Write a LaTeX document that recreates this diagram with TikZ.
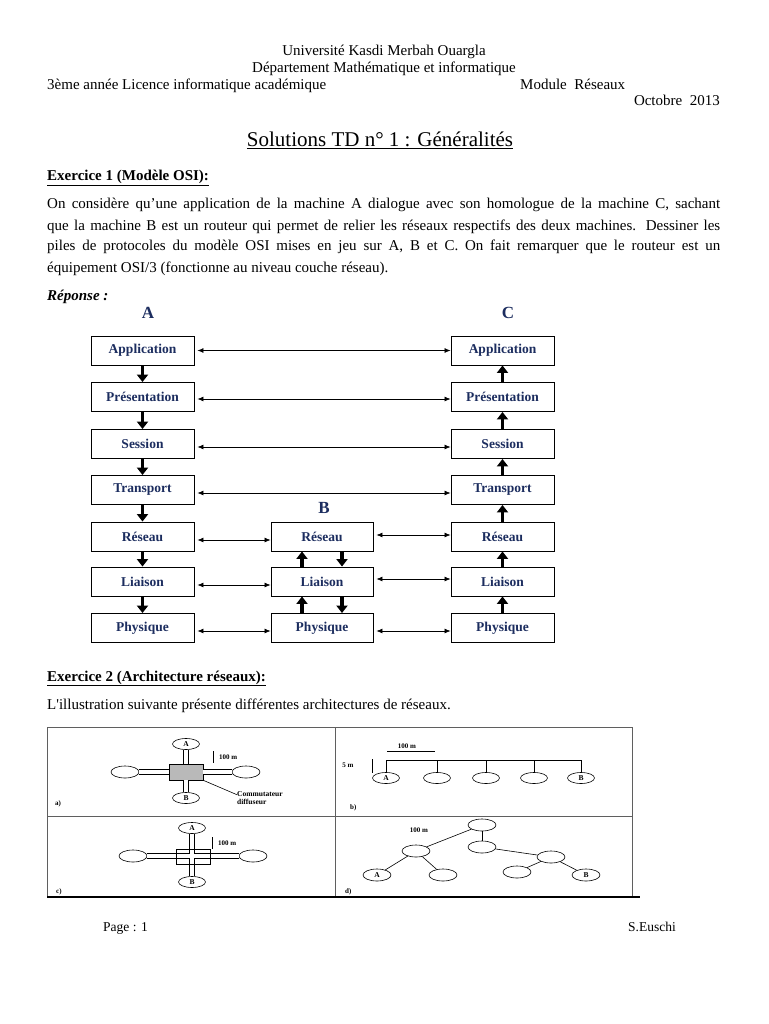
\documentclass[tikz,border=0pt]{standalone}
\usepackage{fontspec}
\setmainfont{Liberation Serif}
\usetikzlibrary{arrows.meta,shapes.geometric}
\definecolor{navy}{RGB}{28,45,95}
\definecolor{framegray}{RGB}{95,95,95}
\begin{document}
\begin{tikzpicture}[x=1pt,y=-1pt,
  txt/.style={inner sep=0pt, font=\fontsize{15}{18}\selectfont},
  layer/.style={draw, line width=0.9pt, minimum width=103pt, minimum height=29pt, inner sep=0pt, text=navy, font=\fontsize{13.5}{14}\selectfont\bfseries},
  stk/.style={text=navy, font=\fontsize{17}{18}\selectfont\bfseries, inner sep=0pt},
  harrow/.style={{Latex[length=6pt,width=5pt]}-{Latex[length=6pt,width=5pt]}, line width=0.7pt},
  tarrow/.style={-{Triangle[length=7.5pt,width=11pt]}, line width=3.6pt},
  ell/.style={draw, ellipse, line width=0.6pt, minimum width=27pt, minimum height=11pt, inner sep=0pt, font=\fontsize{7.5}{8}\selectfont\bfseries},
  wideell/.style={ell, minimum width=28pt, minimum height=12pt},
  lbl/.style={inner sep=0pt, font=\fontsize{7}{8}\selectfont\bfseries},
  tframe/.style={draw=framegray, line width=0.8pt},
  wire/.style={line width=0.6pt},
  dbl/.style={double, double distance=4pt, line width=0.6pt}
]
\useasboundingbox (0,0) rectangle (768,1024);
\fill[white] (0,0) rectangle (768,1024);

% header
\node[txt, anchor=base] (h1) at (384,56) {Université Kasdi Merbah Ouargla};
\node[txt, anchor=base] (h2) at (384,73) {Département Mathématique et informatique};
\node[txt, anchor=base west] (h3) at (47,90) {3ème année Licence informatique académique};
\node[txt, anchor=base west] (h4) at (520,90) {Module\ \ Réseaux};
\node[txt, anchor=base east] (h5) at (720,106) {Octobre\ \ 2013};
\node[inner sep=0pt, font=\fontsize{21}{22}\selectfont, anchor=base] (title) at (380,147) {\underline{Solutions TD n° 1 : Généralités}};

\node[txt, anchor=base west] (ex1) at (47,181) {\textbf{\underline{Exercice 1 (Modèle OSI):}}};
\node[txt, anchor=base west] (p1) at (47,209) {\makebox[673pt][s]{On considère qu’une application de la machine A dialogue avec son homologue de la machine C, sachant}};
\node[txt, anchor=base west] (p2) at (47,230) {\makebox[673pt][s]{que la machine B est un routeur qui permet de relier les réseaux respectifs des deux machines. Dessiner les}};
\node[txt, anchor=base west] (p3) at (47,251) {\makebox[673pt][s]{piles de protocoles du modèle OSI mises en jeu sur A, B et C. On fait remarquer que le routeur est un}};
\node[txt, anchor=base west] (p4) at (47,272) {équipement OSI/3 (fonctionne au niveau couche réseau).};
\node[txt, anchor=base west] (rep) at (47,300) {\textbf{\textit{Réponse :}}};

% OSI stacks
\node[stk] (labA) at (148,313) {A};
\node[stk] (labC) at (508,313) {C};
\node[stk] (labB) at (324,508) {B};

\node[layer] (aApp) at (142.5,350.5) {Application};
\node[layer] (aPre) at (142.5,397) {Présentation};
\node[layer] (aSes) at (142.5,444) {Session};
\node[layer] (aTra) at (142.5,490) {Transport};
\node[layer] (aRes) at (142.5,536.5) {Réseau};
\node[layer] (aLia) at (142.5,581.5) {Liaison};
\node[layer] (aPhy) at (142.5,628) {Physique};

\node[layer] (cApp) at (502.5,350.5) {Application};
\node[layer] (cPre) at (502.5,397) {Présentation};
\node[layer] (cSes) at (502.5,444) {Session};
\node[layer] (cTra) at (502.5,490) {Transport};
\node[layer] (cRes) at (502.5,536.5) {Réseau};
\node[layer] (cLia) at (502.5,581.5) {Liaison};
\node[layer] (cPhy) at (502.5,628) {Physique};

\node[layer, minimum width=102pt] (bRes) at (322,536.5) {Réseau};
\node[layer, minimum width=102pt] (bLia) at (322,581.5) {Liaison};
\node[layer, minimum width=102pt] (bPhy) at (322,628) {Physique};

\draw[harrow] ([xshift=3pt]aApp.east) -- (cApp.west);
\draw[harrow] ([xshift=3pt,yshift=-2pt]aPre.east) -- ([yshift=-2pt]cPre.west);
\draw[harrow] ([xshift=3pt,yshift=-3pt]aSes.east) -- ([yshift=-3pt]cSes.west);
\draw[harrow] ([xshift=3pt,yshift=-3pt]aTra.east) -- ([yshift=-3pt]cTra.west);
\draw[harrow] ([xshift=3pt,yshift=-3.5pt]aRes.east) -- ([yshift=-3.5pt]bRes.west);
\draw[harrow] ([xshift=3pt,yshift=1.5pt]bRes.east) -- ([yshift=1.5pt]cRes.west);
\draw[harrow] ([xshift=3pt,yshift=-3.5pt]aLia.east) -- ([yshift=-3.5pt]bLia.west);
\draw[harrow] ([xshift=3pt,yshift=2.5pt]bLia.east) -- ([yshift=2.5pt]cLia.west);
\draw[harrow] ([xshift=3pt,yshift=-3pt]aPhy.east) -- ([yshift=-3pt]bPhy.west);
\draw[harrow] ([xshift=3pt,yshift=-3pt]bPhy.east) -- ([yshift=-3pt]cPhy.west);

\draw[tarrow] (aApp.south) -- (aPre.north);
\draw[tarrow] (aPre.south) -- (aSes.north);
\draw[tarrow] (aSes.south) -- (aTra.north);
\draw[tarrow] (aTra.south) -- (aRes.north);
\draw[tarrow] (aRes.south) -- (aLia.north);
\draw[tarrow] (aLia.south) -- (aPhy.north);

\draw[tarrow] (cPre.north) -- (cApp.south);
\draw[tarrow] (cSes.north) -- (cPre.south);
\draw[tarrow] (cTra.north) -- (cSes.south);
\draw[tarrow] (cRes.north) -- (cTra.south);
\draw[tarrow] (cLia.north) -- (cRes.south);
\draw[tarrow] (cPhy.north) -- (cLia.south);

\draw[tarrow] ([xshift=-20pt]bLia.north) -- ([xshift=-20pt]bRes.south);
\draw[tarrow] ([xshift=20pt]bRes.south) -- ([xshift=20pt]bLia.north);
\draw[tarrow] ([xshift=-20pt]bPhy.north) -- ([xshift=-20pt]bLia.south);
\draw[tarrow] ([xshift=20pt]bLia.south) -- ([xshift=20pt]bPhy.north);

% Exercice 2
\node[txt, anchor=base west] (ex2) at (47,681) {\textbf{\underline{Exercice 2 (Architecture réseaux):}}};
\node[txt, anchor=base west] (intro) at (47,709) {L\textquotesingle illustration suivante présente différentes architectures de réseaux.};

% table frame
\draw[tframe] (47,727) -- (632,727);
\draw[tframe] (47,727) -- (47,897);
\draw[tframe] (335,727) -- (335,897);
\draw[tframe] (632,727) -- (632,897);
\draw[tframe] (47,816) -- (632,816);
\draw[line width=2.2pt] (47,897) -- (640,897);

% panel a
\node[ell] (paA) at (186,744) {A};
\node[ell] (paB) at (186,798) {B};
\node[wideell] (paL) at (125,772) {};
\node[wideell] (paR) at (246,772) {};
\node[draw, fill=gray!55, line width=0.6pt, minimum width=34pt, minimum height=16pt, inner sep=0pt] (ra) at (186,772) {};
\draw[dbl] (paA) -- (ra);
\draw[dbl] (ra) -- (paB);
\draw[dbl] (paL) -- (ra);
\draw[dbl] (ra) -- (paR);
\draw[wire] (213,751) -- (213,763);
\node[lbl, anchor=west] (pa100) at (219,757) {100 m};
\node[lbl, anchor=north west, align=left, font=\fontsize{7.5}{8}\selectfont\bfseries] (comm) at (237,791) {Commutateur\\diffuseur};
\draw[wire] (ra.south east) -- ([yshift=3pt]comm.west);
\node[lbl, anchor=west] (la) at (55,804) {a)};

% panel b
\node[ell] (pbA) at (386,778) {A};
\node[ell] (pb2) at (437,778) {};
\node[ell] (pb3) at (486,778) {};
\node[ell] (pb4) at (534,778) {};
\node[ell] (pbB) at (581,778) {B};
\coordinate (busL) at (386,760);
\coordinate (busR) at (581,760);
\draw[wire] (pbA.north) -- (busL) -- (busR) -- (pbB.north);
\draw[wire] (pb2.north) -- (pb2.north |- busL);
\draw[wire] (pb3.north) -- (pb3.north |- busL);
\draw[wire] (pb4.north) -- (pb4.north |- busL);
\node[lbl] (pb100) at (407,746) {100 m};
\draw[wire] (387,751) -- (435,751);
\node[lbl] (pb5) at (348,765) {5 m};
\draw[wire] (372,759) -- (372,773);
\node[lbl, anchor=west] (lb) at (350,808) {b)};

% panel c
\node[ell] (pcA) at (192,828) {A};
\node[ell] (pcB) at (192,882) {B};
\node[wideell] (pcL) at (133,856) {};
\node[wideell] (pcR) at (253,856) {};
\draw[line width=5.8pt] (pcA) -- (pcB) (pcL) -- (pcR);
\draw[line width=4.6pt, white] (pcA) -- (pcB) (pcL) -- (pcR);
\node[draw, line width=0.6pt, minimum width=34pt, minimum height=15pt, inner sep=0pt] (rc) at (193,856.5) {};
\draw[wire] (212,837) -- (212,849);
\node[lbl, anchor=west] (pc100) at (218,843) {100 m};
\node[lbl, anchor=west] (lc) at (56,892) {c)};

% panel d
\node[wideell] (pd1) at (482,825) {};
\node[wideell] (pd2) at (482,847) {};
\node[wideell] (pdL) at (416,851) {};
\node[wideell] (pdR) at (551,857) {};
\node[wideell] (pdA) at (377,875) {A};
\node[wideell] (pd3) at (443,875) {};
\node[wideell] (pd4) at (517,872) {};
\node[wideell] (pdB) at (586,875) {B};
\draw[wire] (pd1) -- (pdL);
\draw[wire] (pd1) -- (pd2);
\draw[wire] (pd2) -- (pdR);
\draw[wire] (pdL) -- (pdA);
\draw[wire] (pdL) -- (pd3);
\draw[wire] (pdR) -- (pd4);
\draw[wire] (pdR) -- (pdB);
\node[lbl] (pd100) at (419,830) {100 m};
\node[lbl, anchor=west] (ld) at (345,892) {d)};

% footer
\node[txt, anchor=base west, font=\fontsize{13.5}{16}\selectfont] (pg) at (103,931) {Page : 1};
\node[txt, anchor=base east, font=\fontsize{13.5}{16}\selectfont] (au) at (676,931) {S.Euschi};
\end{tikzpicture}
\end{document}
